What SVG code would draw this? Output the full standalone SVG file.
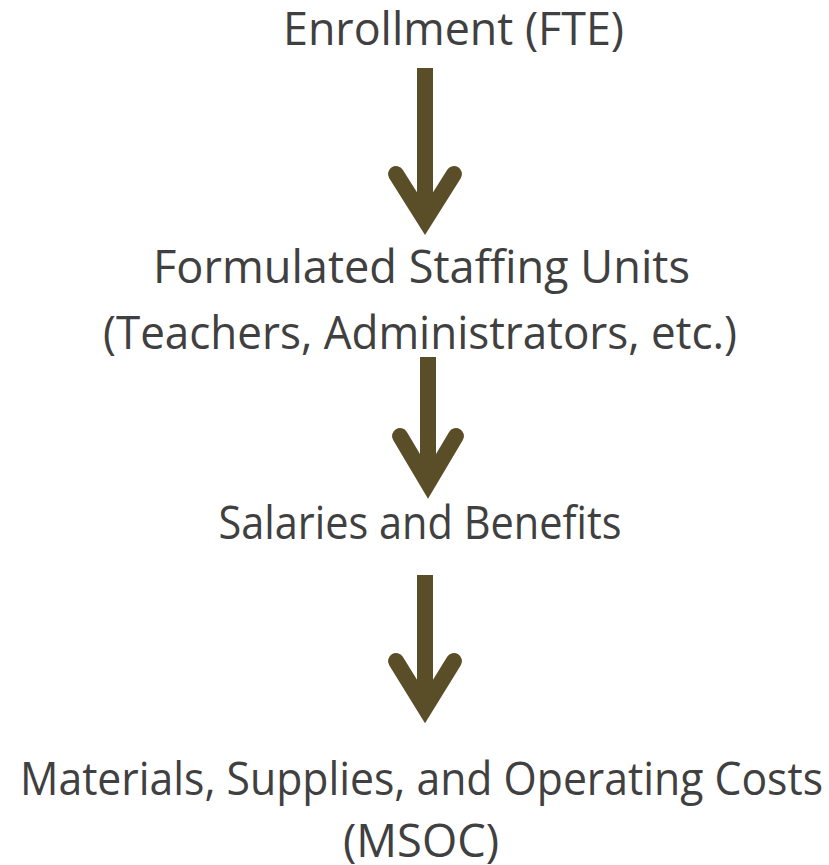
<svg xmlns="http://www.w3.org/2000/svg" width="829" height="865" viewBox="0 0 829 865">
  <style>
    .label { font-family: "Open Sans", "Noto Sans", "DejaVu Sans", sans-serif; font-size: 46px; fill: #404040; text-anchor: middle; }
    .shaft { stroke: #5a4e28; stroke-width: 16; fill: none; stroke-linecap: butt; }
    .head { stroke: #5a4e28; stroke-width: 16; fill: none; stroke-linecap: round; stroke-linejoin: miter; stroke-miterlimit: 10; }
  </style>
  <rect width="829" height="865" fill="#ffffff"/>

  <g id="enrollment">
    <text class="label" x="453.5" y="45" textLength="341" lengthAdjust="spacingAndGlyphs">Enrollment (FTE)</text>
  </g>

  <g id="staffing">
    <text class="label" x="421.5" y="283" textLength="537" lengthAdjust="spacingAndGlyphs">Formulated Staffing Units</text>
    <text class="label" x="420" y="349" textLength="634" lengthAdjust="spacingAndGlyphs">(Teachers, Administrators, etc.)</text>
  </g>

  <g id="salaries">
    <text class="label" x="420" y="539" textLength="403" lengthAdjust="spacingAndGlyphs">Salaries and Benefits</text>
  </g>

  <g id="msoc">
    <text class="label" x="421.5" y="795" textLength="803" lengthAdjust="spacingAndGlyphs">Materials, Supplies, and Operating Costs</text>
    <text class="label" x="421" y="857" textLength="156" lengthAdjust="spacingAndGlyphs">(MSOC)</text>
  </g>

  <g id="connectors">
    <line class="shaft" x1="425" y1="68" x2="425" y2="220"/>
    <polyline class="head" points="396,174 425,220 454,174"/>

    <line class="shaft" x1="428" y1="357" x2="428" y2="483"/>
    <polyline class="head" points="400,436 428,483 456,436"/>

    <line class="shaft" x1="425" y1="575" x2="425" y2="708"/>
    <polyline class="head" points="396,661 425,708 454,661"/>
  </g>
</svg>
